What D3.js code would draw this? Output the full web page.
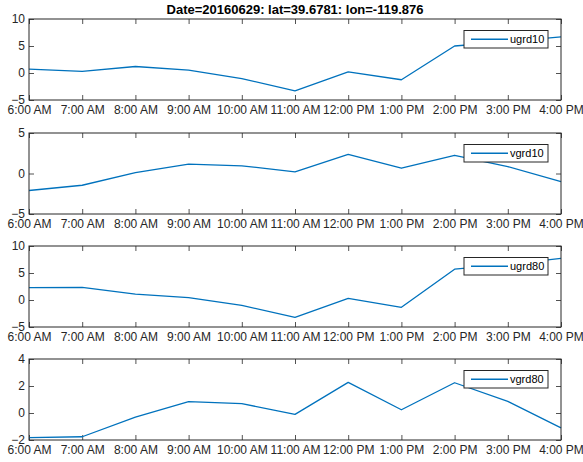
<!DOCTYPE html>
<html>
<head>
<meta charset="utf-8">
<script src="https://cdn.jsdelivr.net/npm/d3@7"></script>
<style>
  body { margin: 0; background: #fff; }
  svg { display: block; font-family: "Liberation Sans", Arial, Helvetica, sans-serif; }
</style>
</head>
<body>
<div id="chart"></div>
<script>
// hours of the day (2016-06-29), 6 AM .. 4 PM
const hours = [6, 7, 8, 9, 10, 11, 12, 13, 14, 15, 16];

const seriesNames = ["ugrd10", "vgrd10", "ugrd80", "vgrd80"];
const ugrd10 = [0.7, 0.3, 1.2, 0.55, -1.05, -3.3, 0.2, -1.25, 5.0, 5.8, 6.7];
const vgrd10 = [-2.1, -1.45, 0.1, 1.15, 0.95, 0.2, 2.35, 0.65, 2.25, 0.85, -1.0];
const ugrd80 = [2.3, 2.35, 1.1, 0.45, -1.0, -3.2, 0.3, -1.35, 5.7, 6.6, 7.7];
const vgrd80 = [-1.83, -1.76, -0.3, 0.84, 0.69, -0.1, 2.27, 0.24, 2.24, 0.86, -1.1];
const seriesValues = [ugrd10, vgrd10, ugrd80, vgrd80];

const yDomains = [[-5, 10], [-5, 5], [-5, 10], [-2, 4]];
const yTicks = [[-5, 0, 5, 10], [-5, 0, 5], [-5, 0, 5, 10], [-2, 0, 2, 4]];

const titleText = "Date=20160629: lat=39.6781: lon=-119.876";

const width = 583, height = 462;
const margin = { left: 29, right: 22 };
const panelTop = [19, 133, 246, 359];
const panelHeight = 81;
const tickLen = 5;
const axisColor = "#262626";
const lineColor = "#0072BD";

const svg = d3.select("#chart").append("svg")
  .attr("width", width)
  .attr("height", height);

const times = hours.map(h => new Date(2016, 5, 29, h));

const x = d3.scaleTime()
  .domain(d3.extent(times))
  .range([margin.left, width - margin.right]);

svg.append("text")
  .attr("x", (x.range()[0] + x.range()[1]) / 2)
  .attr("y", 14)
  .attr("text-anchor", "middle")
  .attr("fill", "#000")
  .style("font-size", "13px")
  .style("font-weight", "bold")
  .text(titleText);

const plotW = x.range()[1] - x.range()[0];

seriesNames.forEach(function(name, i) {
  const top = panelTop[i], bottom = top + panelHeight;
  const y = d3.scaleLinear().domain(yDomains[i]).range([bottom, top]);

  const g = svg.append("g").attr("class", "panel");

  // bottom axis with labels, ticks pointing inward
  const xAxis = d3.axisBottom(x)
    .tickValues(times)
    .tickFormat(d3.timeFormat("%-I:%M %p"))
    .tickSizeInner(-tickLen)
    .tickSizeOuter(0)
    .tickPadding(5.5);
  const gx = g.append("g").attr("transform", "translate(0," + bottom + ")").call(xAxis);

  const xAxisTop = d3.axisTop(x).tickValues(times).tickFormat("").tickSizeInner(-tickLen).tickSizeOuter(0);
  const gxt = g.append("g").attr("transform", "translate(0," + top + ")").call(xAxisTop);

  const yAxis = d3.axisLeft(y)
    .tickValues(yTicks[i])
    .tickFormat(d3.format("d"))
    .tickSizeInner(-tickLen)
    .tickSizeOuter(0)
    .tickPadding(4);
  const gy = g.append("g").attr("transform", "translate(" + margin.left + ",0)").call(yAxis);

  const yAxisRight = d3.axisRight(y).tickValues(yTicks[i]).tickFormat("").tickSizeInner(-tickLen).tickSizeOuter(0);
  const gyr = g.append("g").attr("transform", "translate(" + x.range()[1] + ",0)").call(yAxisRight);

  [gx, gxt, gy, gyr].forEach(function(a) {
    a.select("path.domain").remove();
    a.selectAll("line").attr("stroke", axisColor).attr("stroke-width", 0.8);
    a.selectAll("text")
      .attr("fill", axisColor)
      .style("font-size", "12px")
      .style("font-family", "\"Liberation Sans\", Arial, Helvetica, sans-serif");
  });

  // data line
  const line = d3.line()
    .x((d, j) => x(times[j]))
    .y(d => y(d));

  g.append("path")
    .datum(seriesValues[i])
    .attr("fill", "none")
    .attr("stroke", lineColor)
    .attr("stroke-width", 1.3)
    .attr("stroke-linejoin", "round")
    .attr("d", line);

  // axes box
  g.append("rect")
    .attr("x", x.range()[0])
    .attr("y", top)
    .attr("width", plotW)
    .attr("height", panelHeight)
    .attr("fill", "none")
    .attr("stroke", axisColor)
    .attr("stroke-width", 1);

  // legend (northeast)
  const lgW = 84, lgH = 17.5;
  const lgX = x.range()[1] - 13 - lgW, lgY = top + 11.5;
  const lg = g.append("g").attr("transform", "translate(" + lgX + "," + lgY + ")");
  lg.append("rect")
    .attr("width", lgW)
    .attr("height", lgH)
    .attr("fill", "#fff")
    .attr("stroke", axisColor)
    .attr("stroke-width", 1);
  lg.append("line")
    .attr("x1", 7).attr("x2", 44)
    .attr("y1", lgH / 2).attr("y2", lgH / 2)
    .attr("stroke", lineColor)
    .attr("stroke-width", 1.3);
  lg.append("text")
    .attr("x", 46)
    .attr("y", lgH / 2)
    .attr("dy", "0.35em")
    .attr("fill", "#000")
    .style("font-size", "11px")
    .text(name);
});
</script>
</body>
</html>
